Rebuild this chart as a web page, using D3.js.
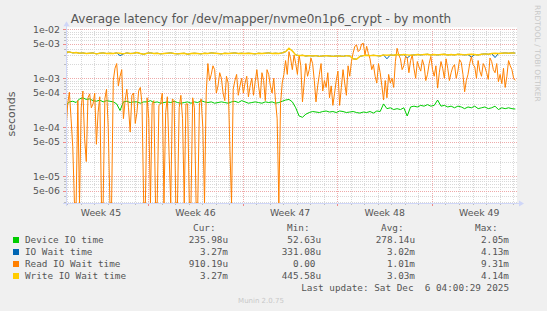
<!DOCTYPE html>
<html>
<head>
<meta charset="utf-8">
<script src="https://cdn.jsdelivr.net/npm/d3@7/dist/d3.min.js"></script>
<style>
  html, body { margin: 0; padding: 0; background: #f0f0f0; }
  svg { display: block; }
  text { font-family: "DejaVu Sans", sans-serif; fill: #555; }
  .mono { font-family: "DejaVu Sans Mono", monospace; white-space: pre; }
</style>
</head>
<body>
<svg id="chart" width="547" height="311"></svg>
<script>
// first sample Sun Nov 2 22:00, values in microseconds
const firstSample = new Date(2025, 10, 2, 22, 0);
const stepHours = 6;      // device / io wait / write series
const readStepHours = 3;  // read series is much noisier, read at finer steps

const deviceIO = [
  280, 330, 340, 320, 380, 400, 370, 380, 350, 340, 360, 330, 350, 340, 330, 300, 220, 330, 340, 320,
  330, 330, 310, 330, 330, 350, 320, 330, 310, 320, 330, 320, 340, 320, 310, 320, 330, 310, 330, 320,
  350, 330, 320, 330, 310, 320, 330, 320, 310, 330, 340, 320, 350, 330, 310, 320, 330, 320, 310, 330,
  320, 330, 310, 320, 340, 360, 370, 330, 250, 170, 160, 185, 200, 210, 205, 200, 210, 215, 205, 210,
  200, 215, 210, 200, 205, 210, 200, 195, 205, 200, 210, 195, 215, 210, 300, 240, 250, 230, 240, 230,
  250, 170, 260, 270, 260, 280, 270, 290, 270, 280, 360, 270, 280, 260, 270, 250, 270, 260, 240, 260,
  250, 270, 240, 250, 260, 240, 250, 270, 230, 250, 240, 250, 240, 236
];

const ioWait = [
  3400, 3450, 3300, 3350, 3250, 3300, 3200, 3250, 3300, 3150, 3250, 3300, 3200, 3250, 3200, 3300, 2900, 3150, 3300, 3200,
  3250, 3350, 3200, 3100, 3250, 3300, 3200, 3250, 3150, 3200, 3250, 3300, 3200, 3150, 3200, 3250, 3100, 3200, 3250, 3200,
  3150, 3250, 3200, 3300, 3250, 3200, 3150, 3250, 3200, 3250, 3300, 3200, 3250, 3200, 3250, 3200, 3150, 3250, 3200, 3250,
  3300, 3200, 3250, 3200, 3300, 3500, 4100, 3600, 3000, 2900, 2950, 2850, 2900, 2850, 2900, 2800, 2850, 2900, 2850, 2800,
  2850, 2850, 2800, 2900, 2850, 2500, 2450, 2800, 2900, 2950, 2900, 2950, 2900, 2850, 3000, 2500, 3000, 2950, 3050, 3000,
  3050, 2600, 2950, 3000, 3050, 3000, 3050, 3100, 3000, 3050, 3000, 3050, 3100, 3000, 3050, 3000, 3100, 3050, 3000, 3050,
  2700, 3050, 3000, 3100, 3150, 3100, 3200, 2650, 3200, 3250, 3300, 3250, 3300, 3270
];

const readIOWait = [
  90, 300, 520, 150, 40, 0, 0, 350, 0, 250, 550, 60, 20, 400, 480, 250, 300, 500, 45, 200,
  420, 0, 0, 380, 600, 100, 0, 0, 900, 1600, 2000, 700, 1100, 1500, 150, 350, 600, 250, 80, 450,
  500, 120, 200, 550, 650, 300, 0, 0, 400, 150, 0, 300, 350, 0, 0, 280, 300, 500, 0, 200,
  420, 30, 0, 380, 350, 0, 0, 250, 450, 150, 0, 300, 300, 0, 0, 400, 250, 0, 0, 300,
  380, 100, 0, 500, 2000, 900, 1200, 1800, 1500, 500, 700, 1300, 1000, 500, 350, 1100, 800, 40, 0, 600,
  900, 1200, 450, 700, 1000, 500, 800, 1100, 420, 700, 1000, 450, 850, 1500, 700, 400, 1300, 900, 350, 1500,
  1200, 700, 500, 1000, 360, 150, 0, 300, 800, 1200, 2300, 1200, 3500, 2500, 1500, 3000, 2000, 1200, 3000, 1800,
  330, 800, 2000, 1100, 1500, 2600, 2000, 900, 330, 700, 1200, 2000, 550, 900, 650, 1300, 400, 700, 280, 500,
  900, 1400, 280, 650, 1500, 800, 450, 1800, 1100, 2200, 3300, 4500, 4800, 3500, 3800, 5000, 5200, 3000, 4500, 3200,
  2500, 1500, 1900, 1100, 800, 2000, 1300, 700, 360, 900, 400, 1200, 800, 1000, 650, 2200, 4100, 3000, 2500, 1500,
  1800, 2800, 2600, 1300, 2300, 3000, 1600, 1000, 2200, 1700, 1400, 2400, 1800, 900, 1200, 2000, 2800, 1500, 1100, 1800,
  630, 1300, 2200, 1600, 1000, 2500, 1600, 900, 1300, 1700, 1900, 1000, 1400, 2400, 2100, 1200, 530, 900, 1200, 2000,
  2800, 1900, 1700, 1000, 2300, 1400, 1100, 2000, 1700, 1300, 950, 2600, 2200, 1500, 1300, 2000, 850, 1200, 780, 1600,
  650, 1100, 2300, 1800, 1500, 1000, 910
];

const writeIOWait = [
  3400, 3450, 3300, 3350, 3250, 3300, 3200, 3250, 3300, 3150, 3250, 3300, 3200, 3250, 3200, 3300, 3250, 3150, 3300, 3200,
  3250, 3350, 3200, 3100, 3250, 3300, 3200, 3250, 3150, 3200, 3250, 3300, 3200, 3150, 3200, 3250, 3100, 3200, 3250, 3200,
  3150, 3250, 3200, 3300, 3250, 3200, 3150, 3250, 3200, 3250, 3300, 3200, 3250, 3200, 3250, 3200, 3150, 3250, 3200, 3250,
  3300, 3200, 3250, 3200, 3300, 3500, 4100, 3600, 3000, 2900, 2950, 2850, 2900, 2850, 2900, 2800, 2850, 2900, 2850, 2800,
  2850, 2850, 2800, 2900, 2850, 2500, 2450, 2800, 2900, 2950, 2900, 2950, 2900, 2850, 3000, 2950, 3000, 2950, 3050, 3000,
  3050, 3000, 2950, 3000, 3050, 3000, 3050, 3100, 3000, 3050, 3000, 3050, 3100, 3000, 3050, 3000, 3100, 3050, 3000, 3050,
  3100, 3050, 3000, 3100, 3150, 3100, 3200, 3250, 3200, 3250, 3300, 3250, 3300, 3270
];

const seriesNames = ["Device IO time", "IO Wait time", "Read IO Wait time", "Write IO Wait time"];
const seriesColors = ["#00cc00", "#0066b3", "#ff8000", "#ffcc00"];
const curLabels = ["235.98u", "3.27m", "910.19u", "3.27m"];
const minLabels = ["52.63u", "331.08u", "0.00 ", "445.58u"];
const avgLabels = ["278.14u", "3.02m", "1.01m", "3.03m"];
const maxLabels = ["2.05m", "4.13m", "9.31m", "4.14m"];
const yLabelTicks = [1e-2, 5e-3, 1e-3, 5e-4, 1e-4, 5e-5, 1e-5, 5e-6];

const title = "Average latency for /dev/mapper/nvme0n1p6_crypt - by month";
const lastUpdate = "Last update: Sat Dec  6 04:00:29 2025";

const svg = d3.select("#chart");
const plotLeft = 66, plotRight = 517, plotTop = 29.3, plotBottom = 203;
const yMin = 2.85e-6;

const x = d3.scaleTime()
  .domain([firstSample, new Date(2025, 11, 6, 7, 0)])
  .range([plotLeft, plotRight]);
const y = d3.scaleLog().domain([yMin, 1e-2]).range([plotBottom, plotTop]);

const axisColor = "#cfd6f8";
const gridColor = "#d8d8d8";
const majorColor = "#eeaaaa";

// canvas
svg.append("rect").attr("x", plotLeft).attr("y", plotTop - 2)
  .attr("width", plotRight - plotLeft).attr("height", plotBottom - plotTop + 2)
  .attr("fill", "#fff");

const grid = svg.append("g").attr("shape-rendering", "crispEdges");
const px = (v) => Math.round(v) + 0.5;

// horizontal grid: minor at every multiple, major at the labelled ones
const minorY = [];
for (let e = -6; e <= -3; e++) {
  for (let k = 2; k <= 9; k++) {
    const v = k * Math.pow(10, e);
    if (v >= yMin && v <= 1e-2 && k !== 5) minorY.push(v);
  }
}
grid.selectAll(".hmin").data(minorY).join("line")
  .attr("x1", plotLeft).attr("x2", plotRight)
  .attr("y1", (d) => px(y(d))).attr("y2", (d) => px(y(d)))
  .attr("stroke", gridColor).attr("stroke-dasharray", "1,1");

// vertical grid: days and weeks
const days = d3.timeDay.range(x.domain()[0], x.domain()[1]);
const weeks = d3.timeSunday.range(x.domain()[0], x.domain()[1]);
grid.selectAll(".vmin").data(days).join("line")
  .attr("x1", (d) => px(x(d))).attr("x2", (d) => px(x(d)))
  .attr("y1", plotTop).attr("y2", plotBottom)
  .attr("stroke", gridColor).attr("stroke-dasharray", "1,1");

grid.selectAll(".hmaj").data(yLabelTicks).join("line")
  .attr("x1", plotLeft).attr("x2", plotRight)
  .attr("y1", (d) => px(y(d))).attr("y2", (d) => px(y(d)))
  .attr("stroke", majorColor).attr("stroke-dasharray", "1,1");
grid.selectAll(".vmaj").data(weeks).join("line")
  .attr("x1", (d) => px(x(d))).attr("x2", (d) => px(x(d)))
  .attr("y1", plotTop).attr("y2", plotBottom)
  .attr("stroke", majorColor).attr("stroke-dasharray", "1,1");

// small tick marks outside the axes
grid.selectAll(".tday").data(days).join("line")
  .attr("x1", (d) => px(x(d))).attr("x2", (d) => px(x(d)))
  .attr("y1", plotBottom).attr("y2", plotBottom + 2).attr("stroke", "#bbb");
grid.selectAll(".tweek").data(weeks).join("line")
  .attr("x1", (d) => px(x(d))).attr("x2", (d) => px(x(d)))
  .attr("y1", plotBottom).attr("y2", plotBottom + 3).attr("stroke", "#e88");
grid.selectAll(".tmin").data(minorY).join("line")
  .attr("x1", plotLeft - 2).attr("x2", plotLeft)
  .attr("y1", (d) => px(y(d))).attr("y2", (d) => px(y(d))).attr("stroke", "#bbb");
grid.selectAll(".tmaj").data(yLabelTicks).join("line")
  .attr("x1", plotLeft - 3).attr("x2", plotLeft)
  .attr("y1", (d) => px(y(d))).attr("y2", (d) => px(y(d))).attr("stroke", "#e88");

// data lines, in rrdtool drawing order
const allSeries = [
  { vals: deviceIO, step: stepHours, width: 1 },
  { vals: ioWait, step: stepHours, width: 1 },
  { vals: readIOWait, step: readStepHours, width: 1 },
  { vals: writeIOWait, step: stepHours, width: 1.4 },
];

svg.append("clipPath").attr("id", "clip").append("rect")
  .attr("x", plotLeft).attr("y", plotTop - 2)
  .attr("width", plotRight - plotLeft).attr("height", plotBottom - plotTop + 2);
const plot = svg.append("g").attr("clip-path", "url(#clip)");
allSeries.forEach((s, k) => {
  const line = d3.line()
    .x((d, i) => x(d3.timeHour.offset(firstSample, i * s.step)))
    .y((d) => y(Math.max(d * 1e-6, yMin)));
  plot.append("path").datum(s.vals)
    .attr("fill", "none")
    .attr("stroke", seriesColors[k])
    .attr("stroke-width", s.width)
    .attr("d", line);
});

// axes with arrows
const ax = svg.append("g").attr("shape-rendering", "crispEdges");
ax.append("line").attr("x1", plotLeft - 3).attr("x2", plotRight + 3)
  .attr("y1", plotBottom + 0.5).attr("y2", plotBottom + 0.5).attr("stroke", axisColor);
ax.append("line").attr("x1", plotLeft + 0.5).attr("x2", plotLeft + 0.5)
  .attr("y1", plotBottom + 3).attr("y2", plotTop - 4).attr("stroke", axisColor);
svg.append("path")
  .attr("d", `M${plotRight + 2},${plotBottom - 2.5}L${plotRight + 7},${plotBottom + 0.5}L${plotRight + 2},${plotBottom + 3.5}Z`)
  .attr("fill", axisColor);
svg.append("path")
  .attr("d", `M${plotLeft - 2.5},${plotTop - 3}L${plotLeft + 0.5},${plotTop - 8}L${plotLeft + 3.5},${plotTop - 3}Z`)
  .attr("fill", axisColor);

// y tick labels
const fmtExp = (v) => {
  const [m, e] = v.toExponential(0).split("e");
  const n = Math.abs(+e);
  return `${m}e${+e < 0 ? "-" : "+"}${String(n).padStart(2, "0")}`;
};
svg.append("g").selectAll("text").data(yLabelTicks).join("text")
  .attr("x", 60).attr("y", (d) => y(d) + 3.4)
  .attr("text-anchor", "end").attr("font-size", "9.33px")
  .text(fmtExp);

// week labels, centred in each week
const weekStarts = d3.timeSunday.range(d3.timeSunday.floor(x.domain()[0]), x.domain()[1]);
svg.append("g").selectAll("text").data(weekStarts).join("text")
  .attr("x", (d) => x(d3.timeHour.offset(d, 84)))
  .attr("y", 216)
  .attr("text-anchor", "middle").attr("font-size", "9.33px")
  .text((d) => "Week " + d3.timeFormat("%V")(d3.timeHour.offset(d, 84)));

// title and labels
svg.append("text").attr("x", 261).attr("y", 23).attr("text-anchor", "middle")
  .attr("font-size", "12px").text(title);
svg.append("text").attr("transform", "translate(15,114) rotate(-90)").attr("text-anchor", "middle")
  .attr("font-size", "11px").text("seconds");
svg.append("text").attr("transform", "translate(535,5) rotate(90)")
  .attr("font-size", "7.5px").style("fill", "#c8c8c8").text("RRDTOOL / TOBI OETIKER");

// legend
const legend = svg.append("g");
const colEnds = [228, 321, 415, 509];
const headEnds = [215.5, 309.5, 403.5, 497.5];
["Cur:", "Min:", "Avg:", "Max:"].forEach((h, c) => {
  legend.append("text").attr("class", "mono").attr("x", headEnds[c]).attr("y", 231)
    .attr("text-anchor", "end").attr("font-size", "9.33px").text(h);
});
seriesNames.forEach((name, k) => {
  const by = 243 + k * 12;
  legend.append("rect").attr("x", 13).attr("y", by - 6).attr("width", 6).attr("height", 6)
    .attr("fill", seriesColors[k]);
  legend.append("text").attr("class", "mono").attr("x", 25).attr("y", by)
    .attr("font-size", "9.33px").text(name);
  [curLabels, minLabels, avgLabels, maxLabels].forEach((col, c) => {
    legend.append("text").attr("class", "mono").attr("x", colEnds[c]).attr("y", by)
      .attr("text-anchor", "end").attr("font-size", "9.33px").text(col[k]);
  });
});
legend.append("text").attr("class", "mono").attr("x", 509).attr("y", 291)
  .attr("text-anchor", "end").attr("font-size", "9.33px").text(lastUpdate);

svg.append("text").attr("x", 261).attr("y", 303).attr("text-anchor", "middle")
  .attr("font-size", "7px").style("fill", "#c8c8c8").text("Munin 2.0.75");
</script>
</body>
</html>
